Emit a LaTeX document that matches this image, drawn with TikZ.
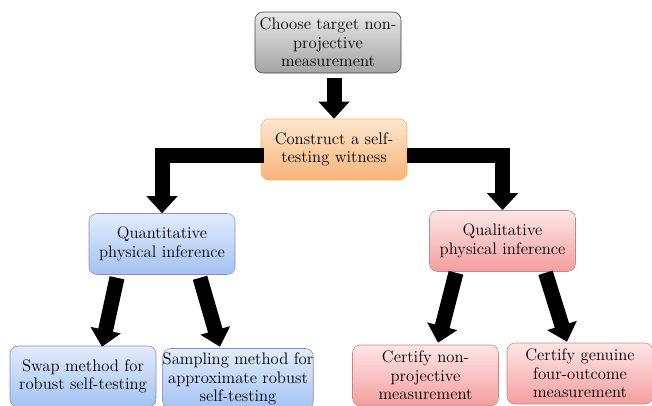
\documentclass[tikz,border=0pt]{standalone}
\usetikzlibrary{arrows.meta}
\usetikzlibrary{calc}
\definecolor{greytop}{HTML}{E8E8E8}
\definecolor{greybot}{HTML}{A4A4A4}
\definecolor{orangetop}{HTML}{FEE6CE}
\definecolor{orangebot}{HTML}{F9B47A}
\definecolor{bluetop}{HTML}{E2ECFC}
\definecolor{bluebot}{HTML}{A3C2F2}
\definecolor{redtop}{HTML}{FDE6E6}
\definecolor{redbot}{HTML}{F59E9E}
\tikzset{box/.style={draw,rounded corners=6pt,align=center,minimum width=109.5pt,minimum height=45.75pt,inner sep=1pt,font=\fontsize{12.5}{13.8}\selectfont}}
\tikzset{greybox/.style={box,top color=greytop,bottom color=greybot,draw=black!75}}
\tikzset{orangebox/.style={box,top color=orangetop,bottom color=orangebot,draw=orange!60}}
\tikzset{bluebox/.style={box,top color=bluetop,bottom color=bluebot,draw=blue!30!gray!70}}
\tikzset{redbox/.style={box,top color=redtop,bottom color=redbot,draw=red!35!gray!70}}
\tikzset{bigarrow/.style={line width=11.25pt,line join=miter,-{Triangle[width=22.5pt,length=12.75pt]}}}

\begin{document}
\begin{tikzpicture}[x=0.75pt,y=-0.75pt]
      \clip (0,0) rectangle (652,405);
      \useasboundingbox (0,0) rectangle (652,405);
      % boxes
      \node[greybox] at (328,42.5) (choose) {Choose target non-\\projective\\measurement};
      \node[orangebox] at (334,149.5) (construct) {Construct a self-\\testing witness};
      \node[bluebox] at (162,244) (quant) {Quantitative\\physical inference};
      \node[redbox] at (502.5,241) (qual) {Qualitative\\physical inference};
      \node[bluebox] at (83,376.5) (swap) {Swap method for\\robust self-testing};
      \node[bluebox,inner xsep=0pt] at (238,379) (sampling) {Sampling method for\\approximate robust\\self-testing};
      \node[redbox] at (425.5,375.5) (certnon) {Certify non-\\projective\\measurement};
      \node[redbox] at (580,373.5) (certgen) {Certify genuine\\four-outcome\\measurement};
      % arrows
      \draw[bigarrow] ($(choose.south)+(6,5)$) -- (construct.north);
      \draw[bigarrow] ($(construct.west)+(3,6)$) -| (quant.north);
      \draw[bigarrow] ($(construct.east)+(0,5.5)$) -| (qual.north);
      \draw[bigarrow] ($(quant.south)+(-45,3)$) -- ($(swap.north)+(19,1)$);
      \draw[bigarrow] ($(quant.south)+(38,3)$) -- ($(sampling.north)+(-18,-1.5)$);
      \draw[bigarrow] ($(qual.south)+(-46.5,1)$) -- ($(certnon.north)+(12.5,-2)$);
      \draw[bigarrow] ($(qual.south)+(43,1)$) -- ($(certgen.north)+(-13,-1)$);
    \end{tikzpicture}
\end{document}
